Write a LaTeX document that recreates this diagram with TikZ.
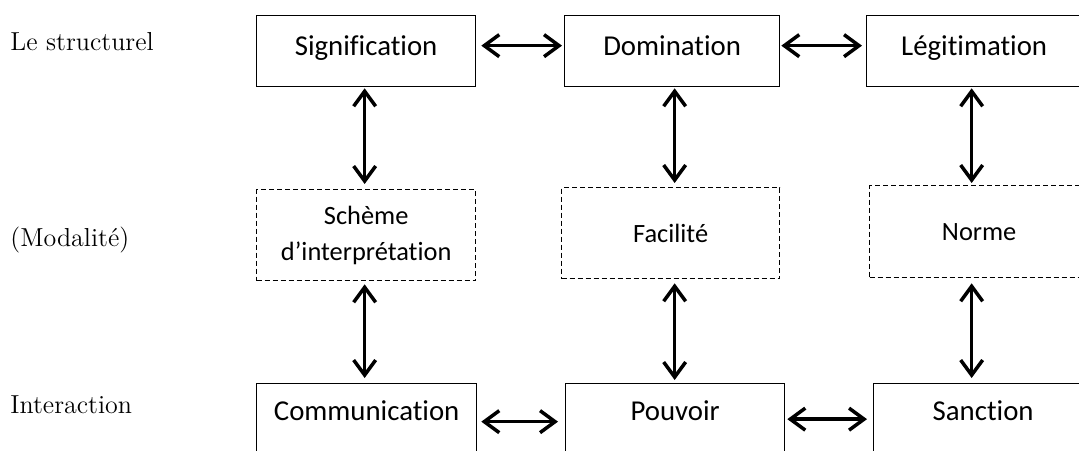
\documentclass[tikz,border=0pt]{standalone}
\usepackage{fontspec}
\newfontfamily\calib[Ligatures={NoCommon,NoRequired,NoContextual}]{Carlito}
\usetikzlibrary{arrows.meta}
\begin{document}
\begin{tikzpicture}[x=0.5pt,y=-0.5pt,
  boxbase/.style={draw=black, line width=0.65pt, anchor=north west, inner ysep=0pt, inner xsep=0pt, minimum height=0pt},
  topbox/.style={boxbase, text height=20pt, text depth=15.5pt, font=\calib\fontsize{14.4}{17}\selectfont},
  botbox/.style={boxbase, text height=18.5pt, text depth=17pt, font=\calib\fontsize{14.4}{17}\selectfont},
  modbox/.style={boxbase, dash pattern=on 2.5pt off 1.5pt, align=center, font=\calib\fontsize{13.2}{18}\selectfont},
  rowlabel/.style={anchor=base west, inner sep=0pt, font=\fontsize{13}{15}\selectfont},
  dbl/.style={line width=1.75pt, {Straight Barb[length=7.5pt,width=11pt]}-{Straight Barb[length=7.5pt,width=11pt]}}
]
\useasboundingbox (0,0) rectangle (1079,450);
\clip (0,0) rectangle (1079,450);

% row labels
\node[rowlabel] (lstruct) at (10,50) {Le structurel};
\node[rowlabel] (lmod) at (10,246) {(Modalité)};
\node[rowlabel] (linter) at (10,413) {Interaction};

% top row
\node[topbox, minimum width=109.5pt] (sig) at (256,15) {Signification};
\node[topbox, minimum width=107.5pt] (dom) at (564,15) {Domination};
\node[topbox, minimum width=107.5pt] (leg) at (866,15) {Légitimation};

% middle row
\node[modbox, minimum width=109.5pt, minimum height=45.5pt] (sch) at (256,189) {Schème\\d’interprétation};
\node[modbox, minimum width=109pt, minimum height=45.5pt] (fac) at (561,187) {Facilité};
\node[modbox, minimum width=109.5pt, minimum height=46pt] (nor) at (869,185) {Norme};

% bottom row
\node[botbox, minimum width=110pt] (com) at (256,383) {Communication};
\node[botbox, minimum width=109.5pt] (pou) at (565,383) {Pouvoir};
\node[botbox, minimum width=109.5pt] (san) at (873,383) {Sanction};

% horizontal connectors
\draw[dbl, shorten <=2.5pt, shorten >=1pt] ([yshift=2.75pt]sig.east) -- ([yshift=2.75pt]dom.west);
\draw[dbl, shorten <=0.5pt, shorten >=2pt] ([yshift=2.75pt]dom.east) -- ([yshift=2.75pt]leg.west);
\draw[dbl, shorten <=2pt, shorten >=3.5pt] ([yshift=-1.25pt]com.east) -- ([yshift=-1.25pt]pou.west);
\draw[dbl, shorten <=1pt, shorten >=3pt] (pou.east) -- (san.west);

% vertical connectors
\draw[dbl, shorten <=0.5pt, shorten >=2.5pt] ([xshift=-0.75pt]sig.south) -- ([xshift=-0.75pt]sig.south |- sch.north);
\draw[dbl, shorten <=1.5pt, shorten >=2.5pt] ([xshift=-0.75pt]sig.south |- sch.south) -- ([xshift=-0.75pt]sig.south |- com.north);
\draw[dbl, shorten <=0.5pt, shorten >=2pt] ([xshift=1.25pt]dom.south) -- ([xshift=1.25pt]dom.south |- fac.north);
\draw[dbl, shorten <=2pt, shorten >=1.5pt] ([xshift=1.25pt]dom.south |- fac.south) -- ([xshift=1.25pt]dom.south |- pou.north);
\draw[dbl, shorten <=0.5pt, shorten >=1pt] ([xshift=-1.25pt]leg.south) -- ([xshift=-1.25pt]leg.south |- nor.north);
\draw[dbl, shorten <=2.5pt, shorten >=2.5pt] ([xshift=-1.25pt]leg.south |- nor.south) -- ([xshift=-1.25pt]leg.south |- san.north);
\end{tikzpicture}
\end{document}
